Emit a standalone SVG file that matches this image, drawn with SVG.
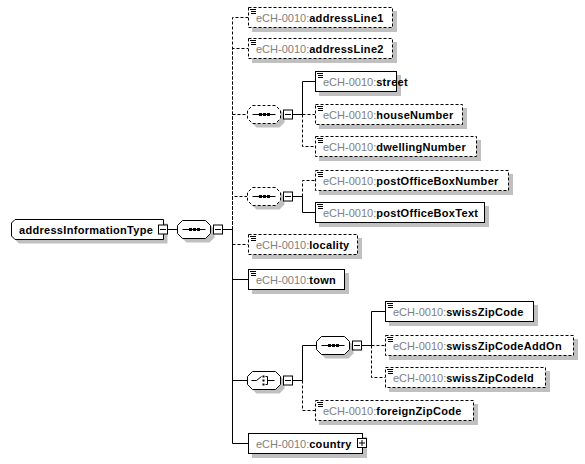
<svg xmlns="http://www.w3.org/2000/svg" xmlns:xlink="http://www.w3.org/1999/xlink" width="585" height="464" viewBox="0 0 585 464">
<style>
.bg{fill:#fff}
.sh{fill:#c0c0c0;stroke:none}
.box{fill:#fff;stroke:#000;stroke-width:1}
.opt{stroke-dasharray:3,2}
.ln{fill:none;stroke:#000;stroke-width:1}
.dl{fill:none;stroke:#000;stroke-width:1;stroke-dasharray:3,2}
.t{font-family:"Liberation Sans",Arial,sans-serif;font-size:11px}
.ns{fill:#808080}
.nm{fill:#000;font-weight:bold;letter-spacing:0.3px}
.ic{fill:none;stroke:#000;stroke-width:1}
.dot{fill:#000}
</style>
<defs>
<path id="oct" d="M5,0 H28 L33,5 V13 L28,18 H5 L0,13 V5 Z"/>
<g id="ico"><rect x="0" y="0" width="7" height="6" fill="#fff"/><path class="ic" d="M0,0.5 H6 M1,2.5 H6 M1,4.5 H6"/></g>
<g id="seqi"><path class="ln" d="M5,9 H28"/><rect class="dot" x="11.5" y="7.5" width="3" height="3"/><rect class="dot" x="15.5" y="7.5" width="3" height="3"/><rect class="dot" x="19.5" y="7.5" width="3" height="3"/></g>
<g id="chi"><path class="ln" d="M4,9 H9 L14,5 M18,5 H20 V13 H18 M20,9 H27"/><rect class="dot" x="15" y="4" width="2" height="2"/><rect class="dot" x="15" y="8" width="2" height="2"/><rect class="dot" x="15" y="12" width="2" height="2"/></g>
<g id="minus"><rect class="box" x="0.5" y="0.5" width="9" height="9"/><path class="ln" d="M2,5 H8"/></g>
</defs>
<rect class="bg" x="0" y="0" width="585" height="464"/>

<g id="connectors">
<path class="ln" d="M168,229.5 H177.5 M223,229.5 H232.5"/>
<path class="dl" d="M232.5,229.5 V17.5 H248"/>
<path class="dl" d="M232.5,229.5 V48.5 H248"/>
<path class="dl" d="M232.5,229.5 V114.5 H247"/>
<path class="dl" d="M232.5,229.5 V196.5 H247"/>
<path class="dl" d="M232.5,229.5 V244.5 H248"/>
<path class="ln" d="M232.5,229.5 V279.5 H248"/>
<path class="ln" d="M232.5,229.5 V380.5 H247"/>
<path class="ln" d="M232.5,229.5 V443.5 H248"/>
<path class="ln" d="M293,114.5 H302.5"/>
<path class="ln" d="M302.5,114.5 V81.5 H315"/>
<path class="dl" d="M302.5,114.5 H315"/>
<path class="dl" d="M302.5,114.5 V146.5 H315"/>
<path class="ln" d="M293,196.5 H302.5"/>
<path class="dl" d="M302.5,196.5 V180.5 H315"/>
<path class="ln" d="M302.5,196.5 V212.5 H315"/>
<path class="ln" d="M293,380.5 H302.5"/>
<path class="ln" d="M302.5,380.5 V345.5 H316"/>
<path class="dl" d="M302.5,380.5 V410.5 H315"/>
<path class="ln" d="M362,345.5 H371.5"/>
<path class="ln" d="M371.5,345.5 V311.5 H385"/>
<path class="dl" d="M371.5,345.5 H385"/>
<path class="dl" d="M371.5,345.5 V377.5 H385"/>
</g>

<g id="root">
<path class="sh" transform="translate(4,4)" d="M15,219.5 H163.5 V239.5 H15 L11.5,236 V223 Z"/>
<path class="box" d="M15,219.5 H163.5 V239.5 H15 L11.5,236 V223 Z"/>
<text class="t nm" x="19" y="234">addressInformationType</text>
<use xlink:href="#minus" x="158" y="224.5"/>
</g>

<g id="seq-root">
<use xlink:href="#oct" class="sh" x="181.5" y="224.5"/>
<use xlink:href="#oct" class="box" x="177.5" y="220.5"/>
<use xlink:href="#seqi" x="177.5" y="220.5"/>
<use xlink:href="#minus" x="213" y="224.5"/>
</g>

<g id="addressLine1">
<rect class="sh" x="252" y="11" width="145" height="21"/>
<rect class="box opt" x="248.5" y="7.5" width="144" height="20"/>
<use xlink:href="#ico" x="250" y="9"/>
<text class="t" x="256" y="22"><tspan class="ns">eCH-0010:</tspan><tspan class="nm">addressLine1</tspan></text>
</g>
<g id="addressLine2">
<rect class="sh" x="252" y="42" width="145" height="21"/>
<rect class="box opt" x="248.5" y="38.5" width="144" height="20"/>
<use xlink:href="#ico" x="250" y="40"/>
<text class="t" x="256" y="53"><tspan class="ns">eCH-0010:</tspan><tspan class="nm">addressLine2</tspan></text>
</g>

<g id="seq1">
<use xlink:href="#oct" class="sh" x="251.5" y="109.5"/>
<use xlink:href="#oct" class="box opt" x="247.5" y="105.5"/>
<use xlink:href="#seqi" x="247.5" y="105.5"/>
<use xlink:href="#minus" x="283" y="109.5"/>
</g>
<g id="street">
<rect class="sh" x="319" y="75" width="82" height="21"/>
<rect class="box" x="315.5" y="71.5" width="81" height="20"/>
<use xlink:href="#ico" x="317" y="73"/>
<text class="t" x="323" y="86"><tspan class="ns">eCH-0010:</tspan><tspan class="nm">street</tspan></text>
</g>
<g id="houseNumber">
<rect class="sh" x="319" y="108" width="148" height="21"/>
<rect class="box opt" x="315.5" y="104.5" width="147" height="20"/>
<use xlink:href="#ico" x="317" y="106"/>
<text class="t" x="323" y="119"><tspan class="ns">eCH-0010:</tspan><tspan class="nm">houseNumber</tspan></text>
</g>
<g id="dwellingNumber">
<rect class="sh" x="319" y="140" width="162" height="21"/>
<rect class="box opt" x="315.5" y="136.5" width="161" height="20"/>
<use xlink:href="#ico" x="317" y="138"/>
<text class="t" x="323" y="151"><tspan class="ns">eCH-0010:</tspan><tspan class="nm">dwellingNumber</tspan></text>
</g>

<g id="seq2">
<use xlink:href="#oct" class="sh" x="251.5" y="191.5"/>
<use xlink:href="#oct" class="box opt" x="247.5" y="187.5"/>
<use xlink:href="#seqi" x="247.5" y="187.5"/>
<use xlink:href="#minus" x="283" y="191.5"/>
</g>
<g id="postOfficeBoxNumber">
<rect class="sh" x="319" y="174" width="194" height="21"/>
<rect class="box opt" x="315.5" y="170.5" width="193" height="20"/>
<use xlink:href="#ico" x="317" y="172"/>
<text class="t" x="323" y="185"><tspan class="ns">eCH-0010:</tspan><tspan class="nm">postOfficeBoxNumber</tspan></text>
</g>
<g id="postOfficeBoxText">
<rect class="sh" x="319" y="206" width="170" height="21"/>
<rect class="box" x="315.5" y="202.5" width="169" height="20"/>
<use xlink:href="#ico" x="317" y="204"/>
<text class="t" x="323" y="217"><tspan class="ns">eCH-0010:</tspan><tspan class="nm">postOfficeBoxText</tspan></text>
</g>

<g id="locality">
<rect class="sh" x="252" y="238" width="110" height="21"/>
<rect class="box opt" x="248.5" y="234.5" width="109" height="20"/>
<use xlink:href="#ico" x="250" y="236"/>
<text class="t" x="256" y="249"><tspan class="ns">eCH-0010:</tspan><tspan class="nm">locality</tspan></text>
</g>
<g id="town">
<rect class="sh" x="252" y="273" width="97" height="21"/>
<rect class="box" x="248.5" y="269.5" width="96" height="20"/>
<use xlink:href="#ico" x="250" y="271"/>
<text class="t" x="256" y="284"><tspan class="ns">eCH-0010:</tspan><tspan class="nm">town</tspan></text>
</g>

<g id="choice">
<use xlink:href="#oct" class="sh" x="251.5" y="375.5"/>
<use xlink:href="#oct" class="box" x="247.5" y="371.5"/>
<use xlink:href="#chi" x="247.5" y="371.5"/>
<use xlink:href="#minus" x="283" y="375.5"/>
</g>
<g id="seq3">
<use xlink:href="#oct" class="sh" x="320.5" y="340.5"/>
<use xlink:href="#oct" class="box" x="316.5" y="336.5"/>
<use xlink:href="#seqi" x="316.5" y="336.5"/>
<use xlink:href="#minus" x="352" y="340.5"/>
</g>
<g id="swissZipCode">
<rect class="sh" x="389" y="305" width="149" height="21"/>
<rect class="box" x="385.5" y="301.5" width="148" height="20"/>
<use xlink:href="#ico" x="387" y="303"/>
<text class="t" x="393" y="316"><tspan class="ns">eCH-0010:</tspan><tspan class="nm">swissZipCode</tspan></text>
</g>
<g id="swissZipCodeAddOn">
<rect class="sh" x="389" y="339" width="189" height="21"/>
<rect class="box opt" x="385.5" y="335.5" width="188" height="20"/>
<use xlink:href="#ico" x="387" y="337"/>
<text class="t" x="393" y="350"><tspan class="ns">eCH-0010:</tspan><tspan class="nm">swissZipCodeAddOn</tspan></text>
</g>
<g id="swissZipCodeId">
<rect class="sh" x="389" y="371" width="161" height="21"/>
<rect class="box opt" x="385.5" y="367.5" width="160" height="20"/>
<use xlink:href="#ico" x="387" y="369"/>
<text class="t" x="393" y="382"><tspan class="ns">eCH-0010:</tspan><tspan class="nm">swissZipCodeId</tspan></text>
</g>
<g id="foreignZipCode">
<rect class="sh" x="319" y="404" width="159" height="21"/>
<rect class="box opt" x="315.5" y="400.5" width="158" height="20"/>
<use xlink:href="#ico" x="317" y="402"/>
<text class="t" x="323" y="415"><tspan class="ns">eCH-0010:</tspan><tspan class="nm">foreignZipCode</tspan></text>
</g>

<g id="country">
<rect class="sh" x="252" y="437" width="115" height="21"/>
<rect class="box" x="248.5" y="433.5" width="114" height="20"/>
<text class="t" x="256" y="448"><tspan class="ns">eCH-0010:</tspan><tspan class="nm">country</tspan></text>
<rect class="box" x="357.5" y="438.5" width="9" height="9"/>
<path class="ln" d="M359,443 H365 M362,440 V446"/>
</g>
</svg>
